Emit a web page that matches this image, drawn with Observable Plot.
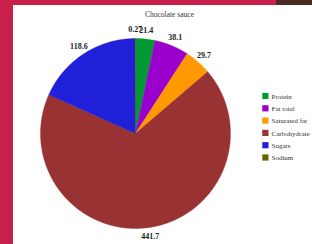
<!DOCTYPE html>
<html>
<head>
<meta charset="utf-8">
<script src="https://cdn.jsdelivr.net/npm/d3@7"></script>
<script src="https://cdn.jsdelivr.net/npm/@observablehq/plot@0.6"></script>
<style>
  html, body { margin: 0; padding: 0; }
  body { width: 312px; height: 244px; background: #c8204a; position: relative; overflow: hidden; }
  #corner { position: absolute; left: 276px; top: 0; width: 36px; height: 5px; background: #4b2a22; }
  #panel { position: absolute; left: 13px; top: 5px; width: 299px; height: 239px; background: #fff; }
  #panel svg { display: block; }
</style>
</head>
<body>
<div id="corner"></div>
<div id="panel"></div>
<script>
const title = "Chocolate sauce";
const categories = ["Protein", "Fat total", "Saturated fat", "Carbohydrate", "Sugars", "Sodium"];
const values = [21.4, 38.1, 29.7, 441.7, 118.6, 0.27];
const labels = ["21.4", "38.1", "29.7", "441.7", "118.6", "0.27"];
const colors = ["#009933", "#9900cc", "#ff9900", "#993333", "#2020d8", "#666600"];

// layout (pixels inside the white panel)
const W = 299, H = 239;
const cx = 122, cy = 128, r = 95, rl = 104;
const total = d3.sum(values);

const slicePts = [];
const labelPts = [];
let acc = 0;
categories.forEach((c, i) => {
  const a0 = acc / total * 2 * Math.PI;
  acc += values[i];
  const a1 = acc / total * 2 * Math.PI;
  const n = Math.max(2, Math.ceil((a1 - a0) / (Math.PI / 360)));
  slicePts.push({cat: c, x: cx, y: cy});
  for (let k = 0; k <= n; k++) {
    const a = a0 + (a1 - a0) * k / n;
    slicePts.push({cat: c, x: cx + r * Math.sin(a), y: cy - r * Math.cos(a)});
  }
  slicePts.push({cat: c, x: cx, y: cy});
  const am = (a0 + a1) / 2;
  labelPts.push({cat: c, label: labels[i], x: cx + rl * Math.sin(am), y: cy - rl * Math.cos(am)});
});

const legendRows = categories.map((c, i) => ({cat: c, i, y: 91 + i * 12.3}));

const chart = Plot.plot({
  width: W, height: H,
  marginTop: 0, marginRight: 0, marginBottom: 0, marginLeft: 0,
  x: {domain: [0, W], range: [0, W], axis: null},
  y: {domain: [0, H], range: [0, H], axis: null},
  color: {domain: categories, range: colors},
  style: {background: "#fff", overflow: "visible"},
  marks: [
    Plot.line(slicePts, {x: "x", y: "y", z: "cat", fill: "cat", stroke: "cat", strokeWidth: 0.4, curve: "linear"}),
    Plot.text(labelPts, {x: "x", y: "y", text: "label", fontFamily: "Liberation Serif", fontWeight: "bold", fontSize: 8, fill: "#222"}),
    Plot.text([title], {x: () => 156, y: () => 9, text: d => d, fontFamily: "Liberation Serif", fontSize: 7.5, fill: "#333"}),
    Plot.rect(legendRows, {x1: () => 249.3, x2: () => 255.5, y1: d => d.y - 3.1, y2: d => d.y + 3.1, fill: "cat"}),
    Plot.text(legendRows, {x: () => 258, y: "y", text: "cat", textAnchor: "start", fontFamily: "Liberation Serif", fontSize: 7, fill: "#333"})
  ]
});
document.getElementById("panel").appendChild(chart);
</script>
</body>
</html>
